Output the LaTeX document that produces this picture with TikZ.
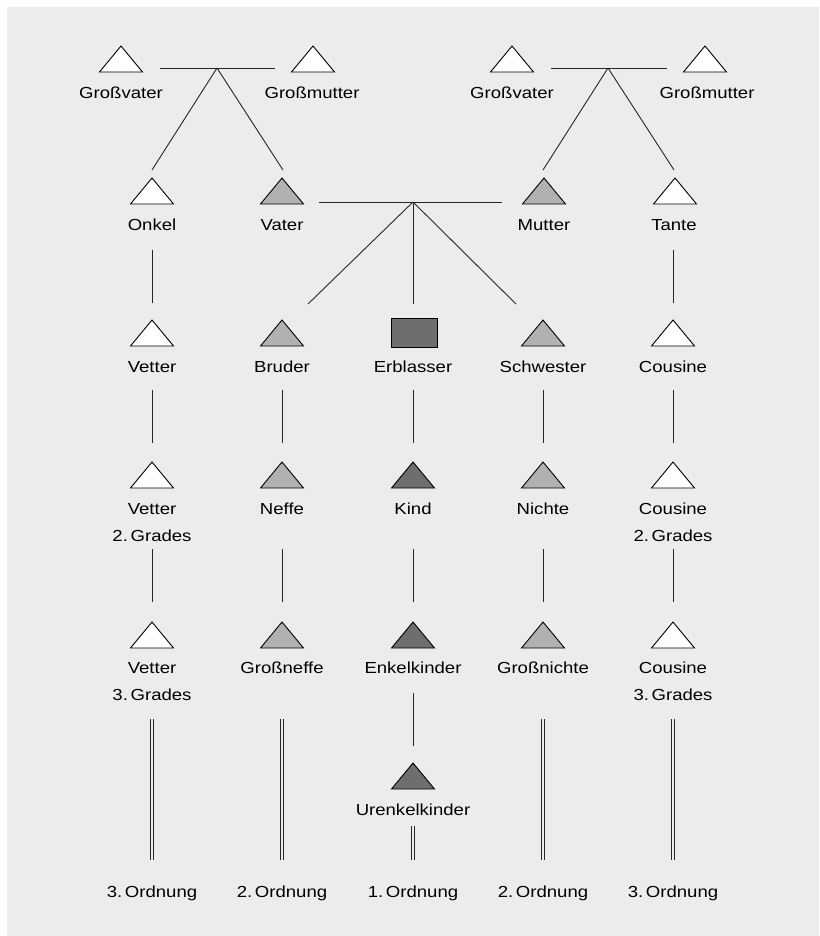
\documentclass[tikz,border=0pt]{standalone}
\usepackage{fontspec}
\setmainfont[FakeStretch=1.16]{Liberation Sans}
\definecolor{bgc}{HTML}{ECECEC}
\definecolor{lgc}{HTML}{B1B1B1}
\definecolor{dgc}{HTML}{6E6E6E}
\begin{document}
\begin{tikzpicture}[x=1pt,y=-1pt,
  conn/.style={draw=black!85,line width=0.9pt},
  dbl/.style={draw=black!85,line width=0.8pt,double distance=2.6pt,double=bgc},
  lbl/.style={inner sep=0pt,font=\fontsize{16}{27}\selectfont,align=center,anchor=base},
  lbltwo/.style={inner sep=0pt,font=\fontsize{16}{27}\selectfont,align=center,anchor=center},
  person/.pic={\draw[pic actions,draw=black,line width=0.9pt,line join=miter] (-21.5,0) -- (0,-26) -- (21.5,0) -- cycle;}
]
\useasboundingbox (0,0) rectangle (819,936);
\fill[bgc] (7,7) rectangle (819,936);

% ---------- row 1: grandparents ----------
\pic[fill=white] at (121,72) {person};
\pic[fill=white] at (313,72) {person};
\pic[fill=white] at (512,72) {person};
\pic[fill=white] at (705,72) {person};
\node[lbl] (gvl) at (121,98.7) {Großvater};
\node[lbl] (gml) at (312,98.7) {Großmutter};
\node[lbl] (gvr) at (512,98.7) {Großvater};
\node[lbl] (gmr) at (707,98.7) {Großmutter};

\coordinate (m1a) at (160,68); \coordinate (m1b) at (275,68); \coordinate (j1) at (217,68);
\coordinate (m2a) at (551,68); \coordinate (m2b) at (667,68); \coordinate (j2) at (608,68);
\coordinate (onkT) at (152,170); \coordinate (vatT) at (283,170);
\coordinate (mutT) at (543,170); \coordinate (tanT) at (674,170);
\draw[conn] (m1a) -- (m1b);
\draw[conn] (j1) -- (onkT);
\draw[conn] (j1) -- (vatT);
\draw[conn] (m2a) -- (m2b);
\draw[conn] (j2) -- (mutT);
\draw[conn] (j2) -- (tanT);

% ---------- row 2 ----------
\pic[fill=white] at (152,204) {person};
\pic[fill=lgc] at (282,204) {person};
\pic[fill=lgc] at (544,204) {person};
\pic[fill=white] at (675,204) {person};
\node[lbl] (onkel) at (152,230.7) {Onkel};
\node[lbl] (vater) at (282,230.7) {Vater};
\node[lbl] (mutter) at (544,230.7) {Mutter};
\node[lbl] (tante) at (674,230.7) {Tante};

\coordinate (m3a) at (319,202); \coordinate (m3b) at (502,202); \coordinate (j3) at (413,202);
\coordinate (bruT) at (308,304); \coordinate (erbT) at (413,304); \coordinate (schT) at (516,304);
\draw[conn] (m3a) -- (m3b);
\draw[conn] (j3) -- (bruT);
\draw[conn] (j3) -- (erbT);
\draw[conn] (j3) -- (schT);
\coordinate (onkB) at (152,250); \coordinate (vetT) at (152,303);
\coordinate (tanB) at (673,250); \coordinate (couT) at (673,303);
\draw[conn] (onkB) -- (vetT);
\draw[conn] (tanB) -- (couT);

% ---------- row 3 ----------
\pic[fill=white] at (152,346) {person};
\pic[fill=lgc] at (282,346) {person};
\draw[fill=dgc,draw=black,line width=0.9pt] (391,318) rectangle (437,347);
\pic[fill=lgc] at (543,346) {person};
\pic[fill=white] at (673,346) {person};
\node[lbl] (vetter) at (152,372.7) {Vetter};
\node[lbl] (bruder) at (282,372.7) {Bruder};
\node[lbl] (erb) at (413,372.7) {Erblasser};
\node[lbl] (schw) at (543,372.7) {Schwester};
\node[lbl] (cous) at (673,372.7) {Cousine};

\foreach \x/\n in {152/a,282/b,413/c,543/d,673/e}{
  \coordinate (r3\n) at (\x,390); \coordinate (r4\n) at (\x,443);
  \draw[conn] (r3\n) -- (r4\n);
}

% ---------- row 4 ----------
\pic[fill=white] at (152,488) {person};
\pic[fill=lgc] at (282,488) {person};
\pic[fill=dgc] at (413,488) {person};
\pic[fill=lgc] at (543,488) {person};
\pic[fill=white] at (673,488) {person};
\node[lbltwo] (vet2) at (152,522.5) {Vetter\\2.\,Grades};
\node[lbl] (neffe) at (282,514.7) {Neffe};
\node[lbl] (kind) at (413,514.7) {Kind};
\node[lbl] (nichte) at (543,514.7) {Nichte};
\node[lbltwo] (cou2) at (673,522.5) {Cousine\\2.\,Grades};

\foreach \x/\n in {152/a,282/b,413/c,543/d,673/e}{
  \coordinate (r5\n) at (\x,549); \coordinate (r6\n) at (\x,602);
  \draw[conn] (r5\n) -- (r6\n);
}

% ---------- row 5 ----------
\pic[fill=white] at (152,648) {person};
\pic[fill=lgc] at (282,648) {person};
\pic[fill=dgc] at (413,648) {person};
\pic[fill=lgc] at (543,648) {person};
\pic[fill=white] at (673,648) {person};
\node[lbltwo] (vet3) at (152,681.5) {Vetter\\3.\,Grades};
\node[lbl] (gneffe) at (282,673.7) {Großneffe};
\node[lbl] (enkel) at (413,673.7) {Enkelkinder};
\node[lbl] (gnichte) at (543,673.7) {Großnichte};
\node[lbltwo] (cou3) at (673,681.5) {Cousine\\3.\,Grades};

\coordinate (enkB) at (413,693); \coordinate (urT) at (413,746);
\draw[conn] (enkB) -- (urT);

% ---------- row 6 ----------
\pic[fill=dgc] at (413,789) {person};
\node[lbl] (urenkel) at (413,815.7) {Urenkelkinder};

\foreach \x/\n in {152/a,282/b,543/d,673/e}{
  \coordinate (d1\n) at (\x,719); \coordinate (d2\n) at (\x,860);
  \draw[dbl] (d1\n) -- (d2\n);
}
\coordinate (d1c) at (413,826); \coordinate (d2c) at (413,860);
\draw[dbl] (d1c) -- (d2c);

% ---------- Ordnung ----------
\node[lbl] (o1) at (152,897.7) {3.\,Ordnung};
\node[lbl] (o2) at (282,897.7) {2.\,Ordnung};
\node[lbl] (o3) at (413,897.7) {1.\,Ordnung};
\node[lbl] (o4) at (543,897.7) {2.\,Ordnung};
\node[lbl] (o5) at (673,897.7) {3.\,Ordnung};
\end{tikzpicture}
\end{document}
